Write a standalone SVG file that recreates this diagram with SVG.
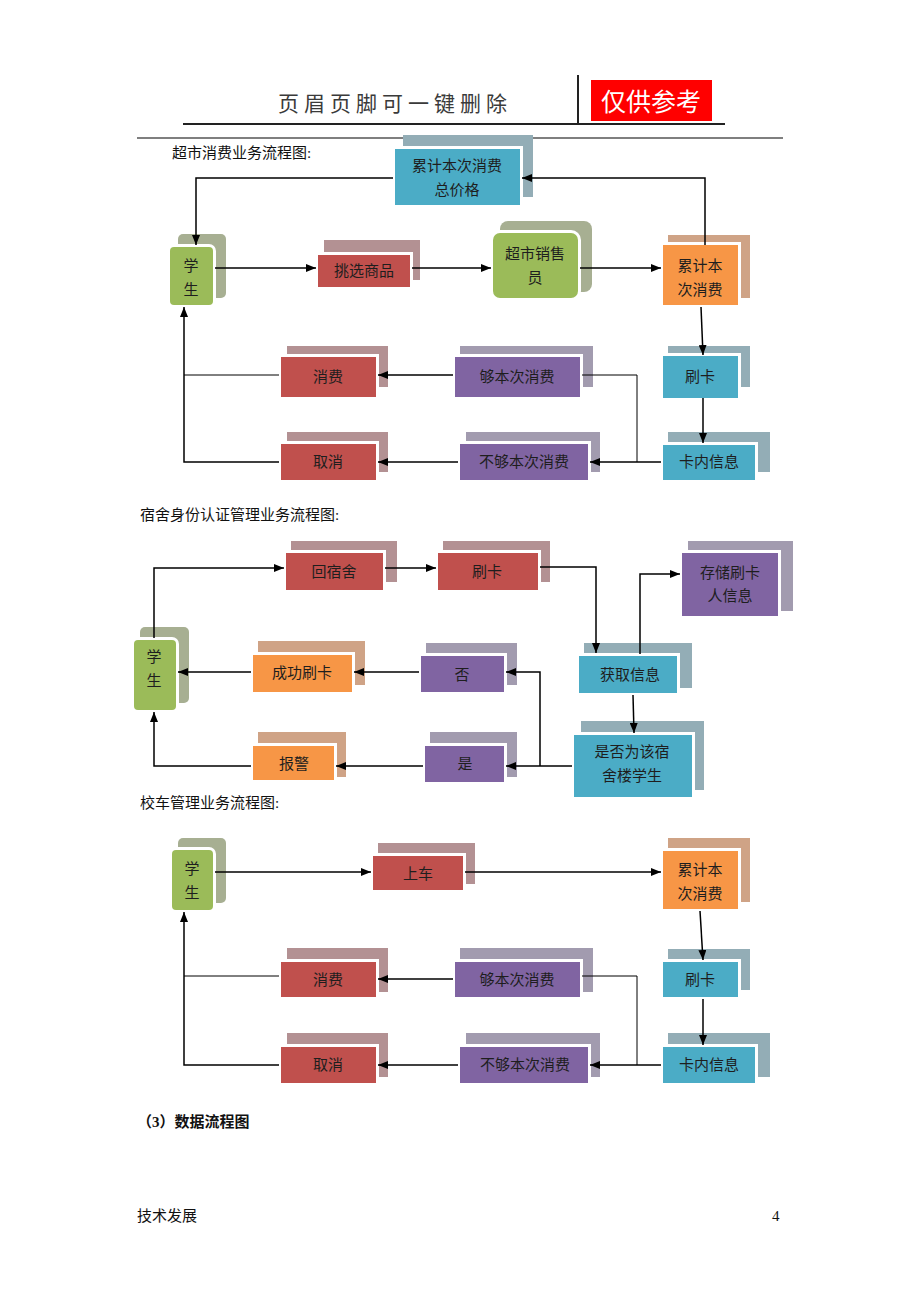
<svg xmlns="http://www.w3.org/2000/svg" width="920" height="1302" viewBox="0 0 920 1302">
<defs>
<marker id="arr" markerUnits="userSpaceOnUse" markerWidth="10" markerHeight="8" refX="10" refY="4" orient="auto">
<path d="M0,0 L10,4 L0,8 z" fill="#000"/>
</marker>
<style>
.fr{stroke:#fff;stroke-width:6;paint-order:stroke}
.blue{fill:#4BACC6}.red{fill:#C0504D}.green{fill:#9BBB59}.orange{fill:#F79646}.purple{fill:#8064A2}
.sblue{fill:#93ADB6}.sred{fill:#B39193}.sgreen{fill:#A7AF92}.sorange{fill:#CFA386}.spurple{fill:#A29BAF}
.t{font-family:"Liberation Serif","Noto Sans CJK SC",sans-serif;font-size:15px;text-anchor:middle;dominant-baseline:central;fill:#1e1e1e}
.cap{font-family:"Liberation Serif","Noto Sans CJK SC",serif;font-size:15px;fill:#111}
.ln{fill:none;stroke:#000;stroke-width:1.5}
.ln1{fill:none;stroke:#000;stroke-width:1}
</style>
</defs>
<rect width="920" height="1302" fill="#fff"/>
<g id="header">
<text x="395" y="102" font-family="Noto Sans CJK SC, sans-serif" font-size="21" fill="#3a3a3a" text-anchor="middle" dominant-baseline="central" letter-spacing="5">页眉页脚可一键删除</text>
<line x1="183" y1="124" x2="725" y2="124" stroke="#222" stroke-width="2"/>
<line x1="578" y1="75" x2="578" y2="124" stroke="#222" stroke-width="2"/>
<rect x="591" y="80" width="121" height="41" fill="#FF0000"/>
<text x="651" y="100" font-family="Noto Sans CJK SC, sans-serif" font-size="25" fill="#fff" text-anchor="middle" dominant-baseline="central">仅供参考</text>
<line x1="137" y1="138" x2="783" y2="138" stroke="#555" stroke-width="1.5"/>
</g>
<text class="cap" x="172" y="158">超市消费业务流程图:</text>
<text class="cap" x="140" y="520">宿舍身份认证管理业务流程图:</text>
<text class="cap" x="140" y="808">校车管理业务流程图:</text>
<text x="137" y="1127" font-family="Liberation Serif, Noto Sans CJK SC, serif" font-size="15" font-weight="bold" fill="#111">（3）数据流程图</text>
<text class="cap" x="137" y="1221">技术发展</text>
<text class="cap" x="772" y="1221">4</text>

<!-- Diagram 1 -->
<g id="d1-total"><rect class="sblue" x="403" y="135" width="130" height="62"/><rect class="fr blue" x="395" y="149" width="125" height="56"/><text class="t" x="457" y="166">累计本次消费</text><text class="t" x="457" y="190">总价格</text></g>
<g id="d1-student"><rect class="sgreen" x="178" y="234" width="48" height="64" rx="5"/><rect class="fr green" x="170" y="247" width="43" height="58" rx="4"/><text class="t" x="191" y="266">学</text><text class="t" x="191" y="290">生</text></g>
<g id="d1-pick"><rect class="sred" x="324" y="240" width="96" height="40"/><rect class="fr red" x="318" y="255" width="92" height="32"/><text class="t" x="364" y="271">挑选商品</text></g>
<g id="d1-clerk"><rect class="sgreen" x="500" y="221" width="92" height="71" rx="8"/><rect class="fr green" x="493" y="233" width="85" height="65" rx="7"/><text class="t" x="535" y="254">超市销售</text><text class="t" x="535" y="278">员</text></g>
<g id="d1-accum"><rect class="sorange" x="668" y="235" width="82" height="63"/><rect class="fr orange" x="663" y="245" width="75" height="60"/><text class="t" x="700" y="266">累计本</text><text class="t" x="700" y="290">次消费</text></g>
<g id="d1-swipe"><rect class="sblue" x="668" y="346" width="82" height="41"/><rect class="fr blue" x="663" y="356" width="75" height="42"/><text class="t" x="700" y="377">刷卡</text></g>
<g id="d1-cardinfo"><rect class="sblue" x="668" y="432" width="102" height="40"/><rect class="fr blue" x="663" y="445" width="92" height="35"/><text class="t" x="709" y="462">卡内信息</text></g>
<g id="d1-enough"><rect class="spurple" x="460" y="346" width="133" height="41"/><rect class="fr purple" x="455" y="357" width="125" height="40"/><text class="t" x="517" y="377">够本次消费</text></g>
<g id="d1-notenough"><rect class="spurple" x="466" y="432" width="134" height="40"/><rect class="fr purple" x="460" y="444" width="128" height="36"/><text class="t" x="524" y="462">不够本次消费</text></g>
<g id="d1-consume"><rect class="sred" x="287" y="346" width="101" height="41"/><rect class="fr red" x="281" y="357" width="95" height="40"/><text class="t" x="328" y="377">消费</text></g>
<g id="d1-cancel"><rect class="sred" x="287" y="432" width="101" height="40"/><rect class="fr red" x="281" y="444" width="95" height="36"/><text class="t" x="328" y="462">取消</text></g>

<g id="d1-connectors">
<polyline class="ln" points="705,245 705,178 522,178" marker-end="url(#arr)"/>
<polyline class="ln" points="393,178 196,178 196,245" marker-end="url(#arr)"/>
<line class="ln" x1="215" y1="268" x2="316" y2="268" marker-end="url(#arr)"/>
<line class="ln" x1="412" y1="268" x2="491" y2="268" marker-end="url(#arr)"/>
<line class="ln" x1="580" y1="268" x2="661" y2="268" marker-end="url(#arr)"/>
<line class="ln" x1="701" y1="307" x2="703" y2="355" marker-end="url(#arr)"/>
<line class="ln" x1="703" y1="398" x2="703" y2="443" marker-end="url(#arr)"/>
<line class="ln" x1="661" y1="462" x2="590" y2="462" marker-end="url(#arr)"/>
<polyline class="ln1" points="582,375 637,375 637,462"/>
<line class="ln" x1="453" y1="375" x2="378" y2="375" marker-end="url(#arr)"/>
<line class="ln" x1="458" y1="462" x2="378" y2="462" marker-end="url(#arr)"/>
<line class="ln1" x1="279" y1="375" x2="184" y2="375"/>
<polyline class="ln" points="279,462 184,462 184,307" marker-end="url(#arr)"/>
</g>

<!-- Diagram 2 -->
<g id="d2-return"><rect class="sred" x="291" y="541" width="106" height="41"/><rect class="fr red" x="286" y="553" width="97" height="37"/><text class="t" x="334" y="572">回宿舍</text></g>
<g id="d2-swipe"><rect class="sred" x="443" y="541" width="107" height="41"/><rect class="fr red" x="438" y="553" width="100" height="37"/><text class="t" x="487" y="572">刷卡</text></g>
<g id="d2-store"><rect class="spurple" x="688" y="541" width="105" height="70"/><rect class="fr purple" x="682" y="553" width="96" height="63"/><text class="t" x="730" y="573">存储刷卡</text><text class="t" x="730" y="596">人信息</text></g>
<g id="d2-student"><rect class="sgreen" x="140" y="627" width="49" height="76" rx="5"/><rect class="fr green" x="134" y="640" width="42" height="70" rx="4"/><text class="t" x="154" y="657">学</text><text class="t" x="154" y="681">生</text></g>
<g id="d2-success"><rect class="sorange" x="258" y="641" width="107" height="44"/><rect class="fr orange" x="253" y="655" width="99" height="37"/><text class="t" x="302" y="673">成功刷卡</text></g>
<g id="d2-no"><rect class="spurple" x="426" y="643" width="91" height="42"/><rect class="fr purple" x="421" y="656" width="83" height="36"/><text class="t" x="462" y="675">否</text></g>
<g id="d2-getinfo"><rect class="sblue" x="584" y="643" width="108" height="45"/><rect class="fr blue" x="579" y="656" width="98" height="37"/><text class="t" x="630" y="675">获取信息</text></g>
<g id="d2-check"><rect class="sblue" x="581" y="721" width="123" height="69"/><rect class="fr blue" x="574" y="735" width="118" height="62"/><text class="t" x="632" y="752">是否为该宿</text><text class="t" x="632" y="776">舍楼学生</text></g>
<g id="d2-alarm"><rect class="sorange" x="258" y="732" width="88" height="45"/><rect class="fr orange" x="253" y="746" width="81" height="34"/><text class="t" x="294" y="764">报警</text></g>
<g id="d2-yes"><rect class="spurple" x="430" y="732" width="87" height="45"/><rect class="fr purple" x="425" y="746" width="79" height="36"/><text class="t" x="465" y="764">是</text></g>

<g id="d2-connectors">
<polyline class="ln" points="154,638 154,568 284,568" marker-end="url(#arr)"/>
<line class="ln" x1="385" y1="568" x2="436" y2="568" marker-end="url(#arr)"/>
<polyline class="ln" points="540,567 596,567 596,653" marker-end="url(#arr)"/>
<polyline class="ln" points="640,654 640,574 680,574" marker-end="url(#arr)"/>
<line class="ln" x1="633" y1="695" x2="634" y2="733" marker-end="url(#arr)"/>
<line class="ln" x1="572" y1="766" x2="506" y2="766" marker-end="url(#arr)"/>
<polyline class="ln" points="540,766 540,672 506,672" marker-end="url(#arr)"/>
<line class="ln" x1="419" y1="672" x2="354" y2="672" marker-end="url(#arr)"/>
<line class="ln" x1="251" y1="672" x2="178" y2="672" marker-end="url(#arr)"/>
<line class="ln" x1="423" y1="766" x2="336" y2="766" marker-end="url(#arr)"/>
<polyline class="ln" points="251,766 154,766 154,712" marker-end="url(#arr)"/>
</g>

<!-- Diagram 3 -->
<g id="d3-student"><rect class="sgreen" x="178" y="838" width="48" height="65" rx="5"/><rect class="fr green" x="172" y="850" width="41" height="60" rx="4"/><text class="t" x="192" y="869">学</text><text class="t" x="192" y="893">生</text></g>
<g id="d3-board"><rect class="sred" x="378" y="843" width="97" height="41"/><rect class="fr red" x="373" y="856" width="90" height="34"/><text class="t" x="418" y="874">上车</text></g>
<g id="d3-accum"><rect class="sorange" x="668" y="838" width="82" height="64"/><rect class="fr orange" x="663" y="851" width="75" height="58"/><text class="t" x="700" y="870">累计本</text><text class="t" x="700" y="894">次消费</text></g>
<g id="d3-swipe"><rect class="sblue" x="668" y="949" width="82" height="41"/><rect class="fr blue" x="663" y="962" width="75" height="35"/><text class="t" x="700" y="980">刷卡</text></g>
<g id="d3-cardinfo"><rect class="sblue" x="668" y="1033" width="102" height="44"/><rect class="fr blue" x="663" y="1047" width="92" height="36"/><text class="t" x="709" y="1065">卡内信息</text></g>
<g id="d3-enough"><rect class="spurple" x="460" y="948" width="133" height="44"/><rect class="fr purple" x="455" y="962" width="125" height="35"/><text class="t" x="517" y="980">够本次消费</text></g>
<g id="d3-notenough"><rect class="spurple" x="466" y="1033" width="134" height="44"/><rect class="fr purple" x="460" y="1047" width="128" height="36"/><text class="t" x="525" y="1065">不够本次消费</text></g>
<g id="d3-consume"><rect class="sred" x="287" y="948" width="101" height="44"/><rect class="fr red" x="281" y="962" width="95" height="35"/><text class="t" x="328" y="980">消费</text></g>
<g id="d3-cancel"><rect class="sred" x="287" y="1033" width="101" height="44"/><rect class="fr red" x="281" y="1047" width="95" height="36"/><text class="t" x="328" y="1065">取消</text></g>

<g id="d3-connectors">
<line class="ln" x1="215" y1="872" x2="371" y2="872" marker-end="url(#arr)"/>
<line class="ln" x1="465" y1="872" x2="661" y2="872" marker-end="url(#arr)"/>
<line class="ln" x1="700" y1="911" x2="703" y2="960" marker-end="url(#arr)"/>
<line class="ln" x1="703" y1="999" x2="703" y2="1045" marker-end="url(#arr)"/>
<line class="ln" x1="661" y1="1065" x2="590" y2="1065" marker-end="url(#arr)"/>
<polyline class="ln1" points="582,976 637,976 637,1065"/>
<line class="ln" x1="453" y1="979" x2="378" y2="979" marker-end="url(#arr)"/>
<line class="ln" x1="458" y1="1065" x2="378" y2="1065" marker-end="url(#arr)"/>
<line class="ln1" x1="279" y1="976" x2="184" y2="976"/>
<polyline class="ln" points="279,1065 184,1065 184,912" marker-end="url(#arr)"/>
</g>
</svg>
